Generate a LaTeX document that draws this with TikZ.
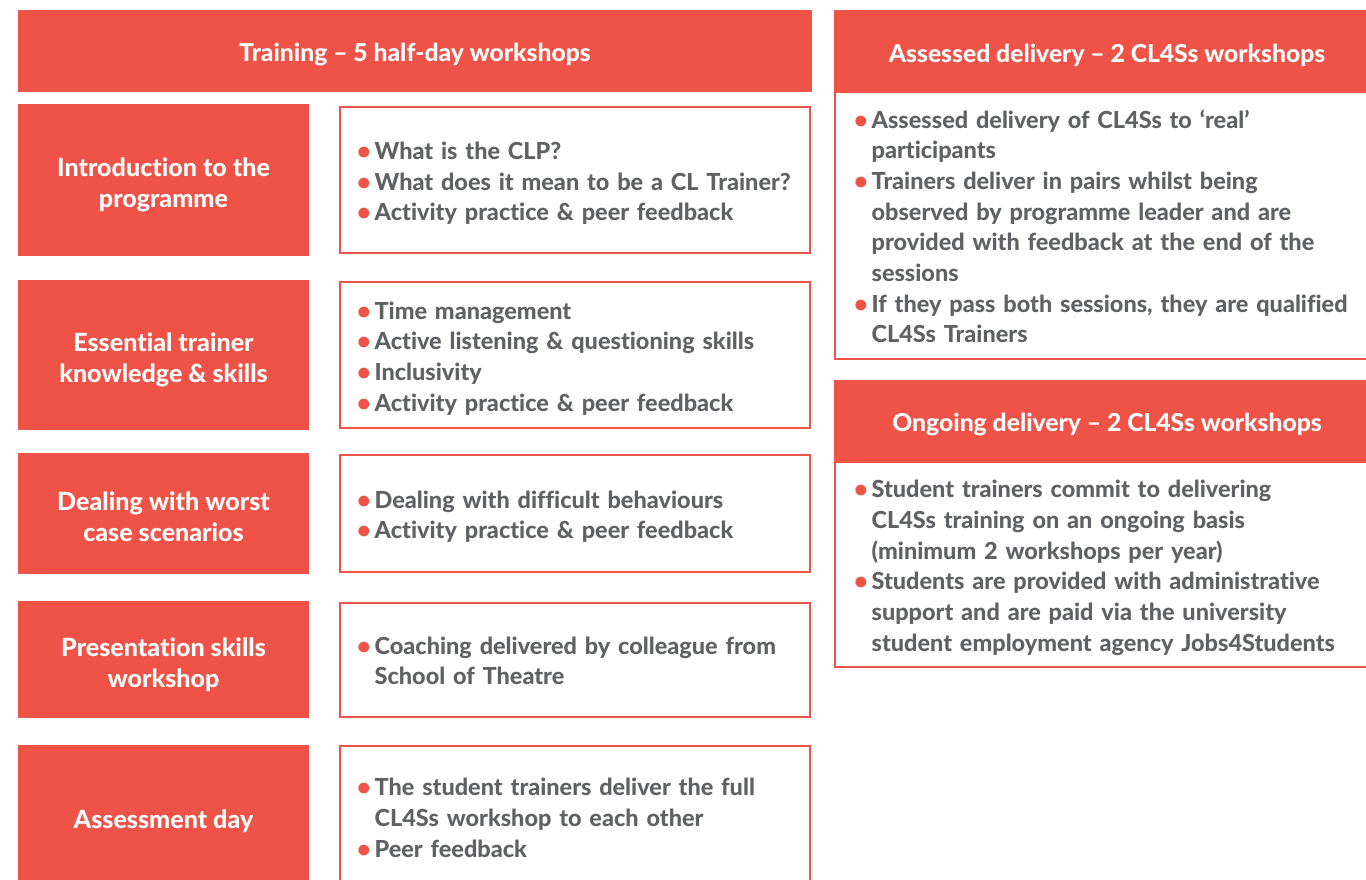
\documentclass[tikz,border=0pt]{standalone}
\usepackage{fontspec}
\setmainfont{Lato}[BoldFont={Lato Heavy}, Ligatures={NoCommon}]
\usepackage{tikz}
\usetikzlibrary{positioning}

\definecolor{clred}{HTML}{EF5246}
\definecolor{clgrey}{HTML}{606164}
\newcommand{\bul}{{\color{clred}\textbullet}}
\newcommand{\lowered}[2][3pt]{\raisebox{-#1}[\height][\depth]{#2}}
\newcommand{\stagetext}[1]{\lowered[4.5pt]{\begin{tabular}{@{}c@{}}#1\end{tabular}}}
\newenvironment{bullets}{\begin{tabular}{@{}l@{\hspace{3pt}}l@{}}}{\end{tabular}}

\begin{document}
\begin{tikzpicture}[x=0.75pt, y=-0.75pt,
    font=\bfseries\fontsize{17.6}{23}\selectfont,
    headnode/.style={fill=clred, text=white, inner sep=0pt, outer sep=0pt, align=center,
                     font=\bfseries\fontsize{18.5}{23}\selectfont},
    stagenode/.style={headnode, minimum width=218.25pt, anchor=north west,
                      font=\bfseries\fontsize{18.8}{23.25}\selectfont},
    itemnode/.style={draw=clred, line width=1.5pt, fill=white, text=clgrey, outer sep=0pt,
                     inner ysep=0pt, inner xsep=12.75pt, text width=327pt, align=left},
    bodynode/.style={itemnode, inner xsep=14.25pt, text width=379.5pt},
  ]
  \useasboundingbox (0,0) rectangle (1366,879);

  % training column
  \node[headnode, anchor=north west, minimum width=595.5pt, minimum height=61.5pt]
        (train) at (18,10) {\lowered{Training -- 5 half-day workshops}};

  \node[stagenode, minimum height=114pt]    (S1) at (18,104) {\stagetext{Introduction to the\\programme}};
  \node[itemnode,  minimum height=109.5pt]  (I1) [right=23.25pt of S1]
        {\lowered{\begin{bullets}
           \bul & What is the CLP?\\
           \bul & What does it mean to be a CL Trainer?\\
           \bul & Activity practice \& peer feedback
         \end{bullets}}};

  \node[stagenode, minimum height=112.5pt]  (S2) at (18,280) {\stagetext{Essential trainer\\knowledge \& skills}};
  \node[itemnode,  minimum height=109.5pt]  (I2) [right=23.25pt of S2]
        {\lowered{\begin{bullets}
           \bul & Time management\\
           \bul & Active listening \& questioning skills\\
           \bul & Inclusivity\\
           \bul & Activity practice \& peer feedback
         \end{bullets}}};

  \node[stagenode, minimum height=90.75pt]  (S3) at (18,453) {\stagetext{Dealing with worst\\case scenarios}};
  \node[itemnode,  minimum height=87.75pt]  (I3) [right=23.25pt of S3]
        {\lowered{\begin{bullets}
           \bul & Dealing with difficult behaviours\\
           \bul & Activity practice \& peer feedback
         \end{bullets}}};

  \node[stagenode, minimum height=87.75pt]  (S4) at (18,601) {\stagetext{Presentation skills\\workshop}};
  \node[itemnode,  minimum height=85.5pt]   (I4) [right=23.25pt of S4]
        {\lowered{\begin{bullets}
           \bul & Coaching delivered by colleague from\\
                & School of Theatre
         \end{bullets}}};

  \node[stagenode, minimum height=107.25pt] (S5) at (18,745) {\stagetext{Assessment day}};
  \node[itemnode,  minimum height=105.75pt] (I5) [right=23.25pt of S5]
        {\lowered{\begin{bullets}
           \bul & The student trainers deliver the full\\
                & CL4Ss workshop to each other\\
           \bul & Peer feedback
         \end{bullets}}};

  % delivery column
  \node[headnode, anchor=north west, minimum width=409.5pt, minimum height=61.5pt]
        (assess) at (834,10) {\lowered{Assessed delivery -- 2 CL4Ss workshops}};
  \node[bodynode, minimum height=200.25pt] (assessbody) [below=0pt of assess]
        {\lowered{\begin{bullets}
           \bul & Assessed delivery of CL4Ss to ‘real’\\
                & participants\\
           \bul & Trainers deliver in pairs whilst being\\
                & observed by programme leader and are\\
                & provided with feedback at the end of the\\
                & sessions\\
           \bul & If they pass both sessions, they are qualified\\
                & CL4Ss Trainers
         \end{bullets}}};

  \node[headnode, minimum width=409.5pt, minimum height=61.5pt]
        (ongoing) [below=15.75pt of assessbody] {\lowered{Ongoing delivery -- 2 CL4Ss workshops}};
  \node[bodynode, minimum height=153.75pt] (ongoingbody) [below=0pt of ongoing]
        {\lowered{\begin{bullets}
           \bul & Student trainers commit to delivering\\
                & CL4Ss training on an ongoing basis\\
                & (minimum 2 workshops per year)\\
           \bul & Students are provided with administrative\\
                & support and are paid via the university\\
                & student employment agency Jobs4Students
         \end{bullets}}};
\end{tikzpicture}
\end{document}
